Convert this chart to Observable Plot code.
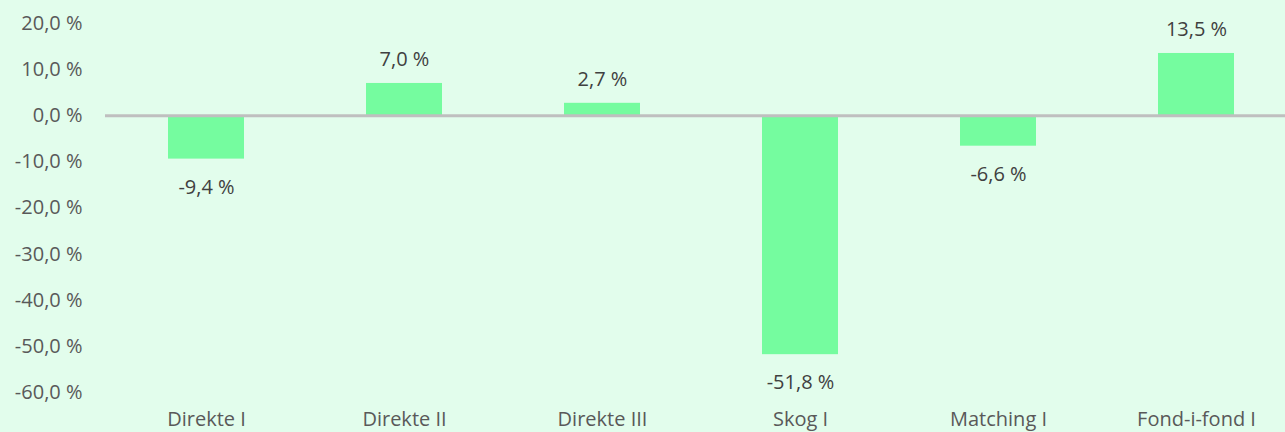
<!DOCTYPE html>
<html>
<head>
<meta charset="utf-8">
<script src="https://cdn.jsdelivr.net/npm/d3@7"></script>
<script src="https://cdn.jsdelivr.net/npm/@observablehq/plot@0.6"></script>
<style>
  html, body { margin: 0; padding: 0; background: #e2fdec; overflow: hidden; }
  #chart svg { display: block; }
</style>
</head>
<body>
<div id="chart"></div>
<script>
const categories = ["Direkte I", "Direkte II", "Direkte III", "Skog I", "Matching I", "Fond-i-fond I"];
const values = [-9.4, 7.0, 2.7, -51.8, -6.6, 13.5];
const yTicks = [20, 10, 0, -10, -20, -30, -40, -50, -60];

const data = categories.map((c, i) => ({category: c, value: values[i]}));
const fmt = d => d.toFixed(1).replace(".", ",") + " %";
const font = "'Open Sans', sans-serif";
const fs = 20;

const chart = Plot.plot({
  width: 1285,
  height: 432,
  marginLeft: 105,
  marginRight: 0,
  marginTop: 0,
  marginBottom: 22,
  style: {background: "#e2fdec", fontFamily: font, fontSize: fs + "px", color: "#595959"},
  x: {domain: categories, range: [105, 1296], paddingInner: 0.617, paddingOuter: 0.3085, align: 0.5, label: null},
  y: {domain: [-60, 20], range: [392, 23], label: null},
  marks: [
    Plot.barY(data, {x: "category", y: "value", fill: "#75fc9f"}),
    Plot.ruleY([0], {stroke: "#bfbfbf", strokeWidth: 3}),
    Plot.text(data.filter(d => d.value >= 0), {x: "category", y: "value", text: d => fmt(d.value), dy: -24, fill: "#404040", fontSize: fs}),
    Plot.text(data.filter(d => d.value < 0), {x: "category", y: "value", text: d => fmt(d.value), dy: 28, fill: "#404040", fontSize: fs}),
    Plot.axisY(yTicks, {tickSize: 0, tickPadding: 23, tickFormat: fmt, fill: "#595959", fontSize: fs}),
    Plot.axisX({tickSize: 0, tickPadding: 1, fill: "#595959", fontSize: fs, label: null})
  ]
});
document.getElementById("chart").append(chart);
</script>
</body>
</html>
